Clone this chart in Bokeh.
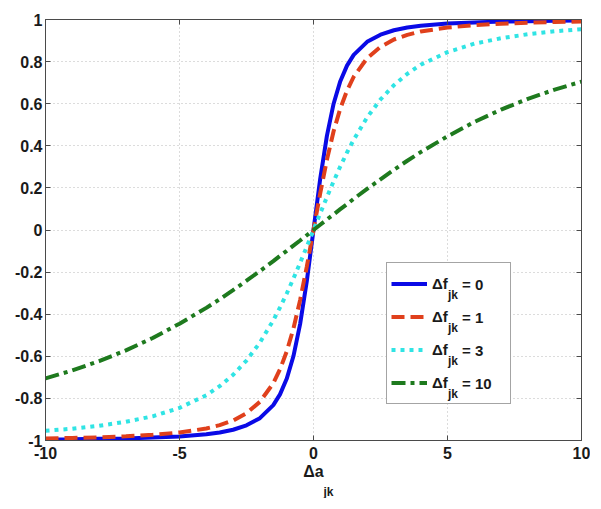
from bokeh.plotting import figure
from bokeh.models import Range1d, FixedTicker, LinearAxis, Legend, LegendItem, Title
from bokeh.embed import file_html
from bokeh.resources import INLINE

# ---- data ----
x_vals = [-10, -9, -8, -7, -6, -5, -4, -3.5, -3, -2.5, -2, -1.5, -1.25, -1, -0.75, -0.5, -0.25,
          0, 0.25, 0.5, 0.75, 1, 1.25, 1.5, 2, 2.5, 3, 3.5, 4, 5, 6, 7, 8, 9, 10]

y_f0 = [-0.995, -0.994, -0.992, -0.990, -0.986, -0.981, -0.970, -0.962, -0.949, -0.928, -0.894,
        -0.832, -0.781, -0.707, -0.600, -0.447, -0.243,
        0.0, 0.243, 0.447, 0.600, 0.707, 0.781, 0.832, 0.894, 0.928, 0.949, 0.962, 0.970,
        0.981, 0.986, 0.990, 0.992, 0.994, 0.995]

y_f1 = [-0.990, -0.988, -0.985, -0.980, -0.973, -0.962, -0.943, -0.927, -0.905, -0.870, -0.816,
        -0.728, -0.662, -0.577, -0.469, -0.333, -0.174,
        0.0, 0.174, 0.333, 0.469, 0.577, 0.662, 0.728, 0.816, 0.870, 0.905, 0.927, 0.943,
        0.962, 0.973, 0.980, 0.985, 0.988, 0.990]

y_f3 = [-0.954, -0.944, -0.930, -0.911, -0.885, -0.845, -0.785, -0.742, -0.688, -0.620, -0.535,
        -0.429, -0.368, -0.302, -0.231, -0.156, -0.079,
        0.0, 0.079, 0.156, 0.231, 0.302, 0.368, 0.429, 0.535, 0.620, 0.688, 0.742, 0.785,
        0.845, 0.885, 0.911, 0.930, 0.944, 0.954]

y_f10 = [-0.705, -0.667, -0.623, -0.572, -0.513, -0.445, -0.370, -0.329, -0.286, -0.241, -0.195,
         -0.148, -0.123, -0.099, -0.074, -0.050, -0.025,
         0.0, 0.025, 0.050, 0.074, 0.099, 0.123, 0.148, 0.195, 0.241, 0.286, 0.329, 0.370,
         0.445, 0.513, 0.572, 0.623, 0.667, 0.705]

x_ticks = [-10, -5, 0, 5, 10]
x_tick_labels = ["-10", "-5", "0", "5", "10"]
y_ticks = [-1, -0.8, -0.6, -0.4, -0.2, 0, 0.2, 0.4, 0.6, 0.8, 1]
y_tick_labels = ["-1", "-0.8", "-0.6", "-0.4", "-0.2", "0", "0.2", "0.4", "0.6", "0.8", "1"]
legend_values = ["0", "1", "3", "10"]
x_label_main = "\u0394a"
x_label_sub = "jk"
legend_main = "\u0394f"
legend_sub = "jk"

# ---- styles ----
FONT = "Liberation Sans"
AX = "#4a4a4a"
TXT = "#1a1a1a"
colors = ["#0a0ae6", "#e0401c", "#30e4e4", "#1e7a1e"]
dashes = ["solid", "13 6", "4 5", "14 5 4 5"]

p = figure(width=590, height=500, frame_width=536, frame_height=421,
           x_range=Range1d(-10, 10), y_range=Range1d(-1, 1),
           output_backend="svg", toolbar_location=None,
           min_border_left=45, min_border_right=9, min_border_top=19, min_border_bottom=40)
p.background_fill_color = "white"
p.border_fill_color = "white"
p.outline_line_color = AX
p.outline_line_width = 1

for ax, ticks, labels in ((p.xaxis[0], x_ticks, x_tick_labels), (p.yaxis[0], y_ticks, y_tick_labels)):
    ax.ticker = FixedTicker(ticks=ticks)
    ax.major_label_overrides = {t: l for t, l in zip(ticks, labels)}
    ax.major_tick_in = 5
    ax.major_tick_out = 0
    ax.minor_tick_in = 0
    ax.minor_tick_out = 0
    ax.axis_line_color = AX
    ax.major_tick_line_color = AX
    ax.major_label_text_font = FONT
    ax.major_label_text_font_style = "bold"
    ax.major_label_text_font_size = "16px"
    ax.major_label_text_color = TXT
p.xaxis[0].major_label_standoff = 6
p.yaxis[0].major_label_standoff = 3

xa = p.xaxis[0]
xa.axis_label = x_label_main
xa.axis_label_text_font = FONT
xa.axis_label_text_font_style = "bold"
xa.axis_label_text_font_size = "16px"
xa.axis_label_text_color = TXT
xa.axis_label_standoff = 1

for loc, ticks in (("right", y_ticks), ("above", x_ticks)):
    a = LinearAxis(ticker=FixedTicker(ticks=ticks),
                   major_label_overrides={t: "" for t in ticks},
                   major_label_text_font_size="1px", major_label_standoff=0,
                   major_tick_in=5, major_tick_out=0, minor_tick_in=0, minor_tick_out=0,
                   axis_line_color=AX, major_tick_line_color=AX)
    p.add_layout(a, loc)

# subscript of the x axis label
p.add_layout(Title(text=x_label_sub, align="left", offset=278, standoff=0,
                   text_font=FONT, text_font_style="bold", text_font_size="12px",
                   text_color=TXT), "below")

p.xgrid.ticker = FixedTicker(ticks=x_ticks)
p.ygrid.ticker = FixedTicker(ticks=y_ticks)
for g in (p.xgrid[0], p.ygrid[0]):
    g.grid_line_color = "#b8b8b8"
    g.grid_line_dash = "1 3"
    g.grid_line_width = 1

renderers = []
for ys, c, d in zip((y_f0, y_f1, y_f3, y_f10), colors, dashes):
    r = p.line(x_vals, ys, line_color=c, line_width=4, line_dash=d)
    renderers.append(r)

common = dict(orientation="vertical", spacing=0, margin=0, glyph_height=33, label_height=33,
              label_text_font=FONT, label_text_font_style="bold", label_text_color=TXT)

# framed legend: glyph samples and the main "Δf" part of each label
legend = Legend(items=[LegendItem(label=legend_main, renderers=[r]) for r in renderers],
                location=(341, 36), padding=4, glyph_width=36, label_width=74, label_standoff=5,
                label_text_font_size="15px",
                border_line_color=AX, border_line_width=1,
                background_fill_color="white", background_fill_alpha=1.0, **common)
p.add_layout(legend, "center")

# subscripts of the legend labels (frameless, no glyph samples)
sub_legend = Legend(items=[LegendItem(label=legend_sub, renderers=[r]) for r in renderers],
                    location=(403, 30), padding=0, glyph_width=0, label_standoff=0,
                    label_text_font_size="12px",
                    border_line_color=None, background_fill_alpha=0.0, **common)
p.add_layout(sub_legend, "center")

# "= value" part of the legend labels
val_legend = Legend(items=[LegendItem(label="= " + v, renderers=[r]) for v, r in zip(legend_values, renderers)],
                    location=(417, 40), padding=0, glyph_width=0, label_standoff=0,
                    label_text_font_size="15px",
                    border_line_color=None, background_fill_alpha=0.0, **common)
p.add_layout(val_legend, "center")

open("out.html", "w").write(file_html(p, INLINE))
